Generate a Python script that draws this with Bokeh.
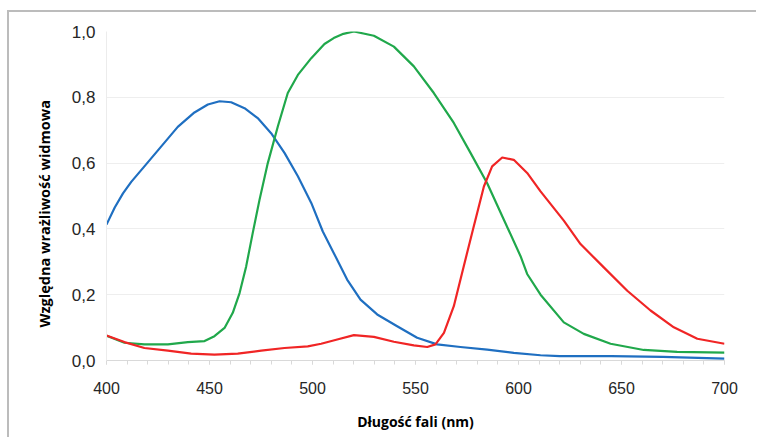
from bokeh.plotting import figure
from bokeh.models import Range1d, FixedTicker, Title
from bokeh.embed import file_html
from bokeh.resources import INLINE

# ---- data ----
blue_nm = [400, 404.0, 408.0, 412.0, 418.4, 426.5, 434.6, 442.7, 449.2, 454.9,
           460.5, 467.0, 473.4, 479.9, 486.4, 492.9, 499.4, 505.0, 510.3, 516.8,
           523.3, 531.4, 541.1, 550.8, 560.5, 571.8, 584.8, 597.7, 610.7, 620.0,
           645.0, 670.0, 700]
blue_val = [0.413, 0.465, 0.508, 0.543, 0.590, 0.650, 0.710, 0.754, 0.778, 0.788,
            0.785, 0.767, 0.737, 0.691, 0.631, 0.560, 0.479, 0.392, 0.327, 0.246,
            0.185, 0.140, 0.104, 0.069, 0.049, 0.041, 0.033, 0.023, 0.016, 0.013,
            0.013, 0.011, 0.006]

green_nm = [400, 408.7, 418.4, 429.8, 439.5, 447.6, 452.4, 457.3, 461.3, 464.6,
            467.8, 471.0, 474.3, 478.3, 483.2, 488.0, 492.9, 499.4, 505.8, 510.3,
            515.0, 520.1, 529.8, 539.5, 549.2, 558.9, 568.6, 576.7, 584.8, 592.9,
            601.0, 604.2, 610.7, 622.0, 631.7, 644.7, 660.8, 677.0, 700]
green_val = [0.075, 0.054, 0.049, 0.049, 0.056, 0.059, 0.074, 0.099, 0.145, 0.205,
             0.286, 0.388, 0.489, 0.600, 0.712, 0.813, 0.868, 0.919, 0.962, 0.980,
             0.993, 1.000, 0.987, 0.954, 0.894, 0.813, 0.722, 0.631, 0.539, 0.428,
             0.317, 0.263, 0.200, 0.116, 0.081, 0.051, 0.032, 0.026, 0.024]

red_nm = [400, 408.7, 418.4, 429.8, 441.1, 452.4, 463.7, 475.1, 486.4, 497.7,
          504.2, 512.0, 520.1, 529.8, 539.5, 549.2, 555.7, 559.7, 563.8, 568.6,
          573.4, 578.3, 583.2, 587.2, 592.1, 597.7, 604.2, 610.7, 622.0, 630.1,
          641.4, 652.8, 664.1, 675.4, 686.8, 700]
red_val = [0.076, 0.056, 0.038, 0.030, 0.021, 0.018, 0.021, 0.030, 0.038, 0.043,
           0.051, 0.064, 0.077, 0.072, 0.057, 0.046, 0.041, 0.049, 0.084, 0.165,
           0.286, 0.408, 0.529, 0.590, 0.617, 0.610, 0.570, 0.514, 0.425, 0.354,
           0.283, 0.212, 0.152, 0.101, 0.066, 0.051]

x_ticks = [400, 450, 500, 550, 600, 650, 700]
x_minor = list(range(400, 701, 10))
y_ticks = [0.0, 0.2, 0.4, 0.6, 0.8, 1.0]
y_tick_labels = ["0,0", "0,2", "0,4", "0,6", "0,8", "1,0"]

x_title = "Długość fali (nm)"
y_title = "Względna wrażliwość widmowa"

# ---- figure ----
p = figure(frame_width=618, frame_height=329, output_backend="svg",
           toolbar_location=None,
           x_range=Range1d(400, 700), y_range=Range1d(0, 1.0),
           min_border_left=97, min_border_right=32, min_border_top=19,
           min_border_bottom=77)
p.styles = {"margin-left": "7px", "margin-top": "10px",
            "border-left": "2px solid #bcbcbc", "border-top": "2px solid #bcbcbc"}
p.outline_line_color = None
p.background_fill_color = "white"
p.border_fill_color = "white"

for xs, ys, col in ((blue_nm, blue_val, "#1f6fc1"),
                    (green_nm, green_val, "#20a84b"),
                    (red_nm, red_val, "#f02525")):
    p.line(xs, ys, line_color=col, line_width=2.2, line_join="round")

# x axis
xa = p.xaxis[0]
xa.ticker = FixedTicker(ticks=x_ticks, minor_ticks=x_minor)
xa.axis_line_color = "#d9d9d9"
xa.major_tick_line_color = "#d9d9d9"
xa.minor_tick_line_color = "#d9d9d9"
xa.major_tick_in = 0
xa.major_tick_out = 4
xa.minor_tick_in = 0
xa.minor_tick_out = 4
xa.major_label_text_font = "Liberation Sans"
xa.major_label_text_font_size = "16px"
xa.major_label_text_color = "#262626"
xa.major_label_standoff = 17
xa.axis_label = x_title
xa.axis_label_text_font = "Open Sans"
xa.axis_label_text_font_style = "bold"
xa.axis_label_text_font_size = "14px"
xa.axis_label_text_color = "#000000"
xa.axis_label_standoff = 15

# y axis
ya = p.yaxis[0]
ya.ticker = FixedTicker(ticks=y_ticks)
ya.major_label_overrides = {t: lab for t, lab in zip(y_ticks, y_tick_labels)}
ya.axis_line_color = "#ececec"
ya.major_tick_line_color = None
ya.minor_tick_line_color = None
ya.major_tick_out = 0
ya.major_tick_in = 0
ya.major_label_text_font = "Liberation Sans"
ya.major_label_text_font_size = "17px"
ya.major_label_text_color = "#262626"
ya.major_label_standoff = 11

p.xgrid.grid_line_color = None
p.ygrid.grid_line_color = "#eeeeee"
p.ygrid.grid_line_width = 1

p.add_layout(Title(text=y_title, align="left", offset=33, standoff=30,
                   text_font="Open Sans", text_font_style="bold",
                   text_font_size="14.5px", text_color="#000000"), "left")

open("out.html", "w").write(file_html(p, INLINE))
